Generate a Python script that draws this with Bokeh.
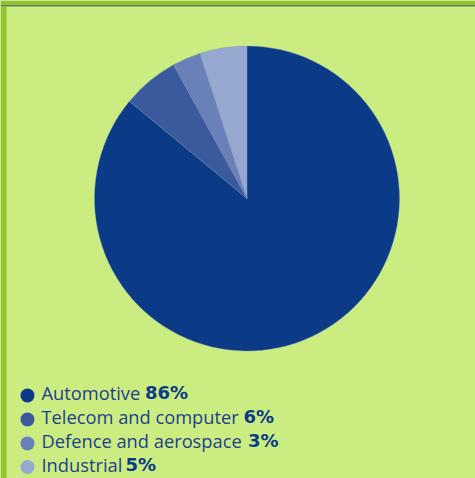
import math
from bokeh.plotting import figure
from bokeh.models import Range1d, ColumnDataSource
from bokeh.core.properties import value
from bokeh.embed import file_html
from bokeh.resources import INLINE

# data
categories = ["Automotive", "Telecom and computer", "Defence and aerospace", "Industrial"]
shares = [86, 6, 3, 5]
colors = ["#0b3a87", "#3b5a9e", "#6a80b8", "#97a8d0"]
pct_labels = ["86%", "6%", "3%", "5%"]

W, H = 475, 478
BG = "#cbec80"
p = figure(width=W, height=H, output_backend="svg", toolbar_location=None,
           x_range=Range1d(0, W), y_range=Range1d(0, H), min_border=0,
           background_fill_color=BG, border_fill_color=BG, outline_line_color=None)
p.axis.visible = False
p.grid.visible = False

# frame decoration
p.quad(left=[0], right=[W], top=[H], bottom=[H - 4.5], fill_color="#93c22d", line_color=None)
p.quad(left=[0], right=[W], top=[H - 4.5], bottom=[H - 6], fill_color="#5b7f63", line_color=None)
p.quad(left=[0], right=[6], top=[H - 6], bottom=[0], fill_color="#94c42f", line_color=None)

# pie
total = sum(shares)
starts, ends = [], []
cum = 0
for s in shares:
    a0 = math.pi / 2 - 2 * math.pi * cum / total
    cum += s
    a1 = math.pi / 2 - 2 * math.pi * cum / total
    starts.append(a1)
    ends.append(a0)
src = ColumnDataSource(dict(start=starts, end=ends, color=colors, cat=categories))
cx, cy, r = 246.5, H - 198, 152.5
p.wedge(x=cx, y=cy, radius=r, start_angle="start", end_angle="end",
        fill_color="color", line_color="#6d8ab8", line_width=0.6, line_alpha=0.6, source=src)

# legend
row_y = [395, 419, 443, 466.5]
bold_x = [144.5, 243, 247.5, 125]
ys = [H - y for y in row_y]
p.scatter(x=[27] * 4, y=ys, size=14, marker="circle", fill_color=colors, line_color=None)
p.text(x=[41] * 4, y=[y + 3 for y in ys], text=categories, text_font=value("Open Sans"),
       text_font_size="18.3px", text_color="#1f3f8c", text_baseline="alphabetic", text_align="left")
p.text(x=bold_x, y=[y + 3 for y in ys], text=pct_labels, text_font=value("DejaVu Sans"),
       text_font_style="bold", text_font_size="18px", text_color="#0b3a87",
       text_baseline="alphabetic", text_align="left")

open("out.html", "w").write(file_html(p, INLINE))
